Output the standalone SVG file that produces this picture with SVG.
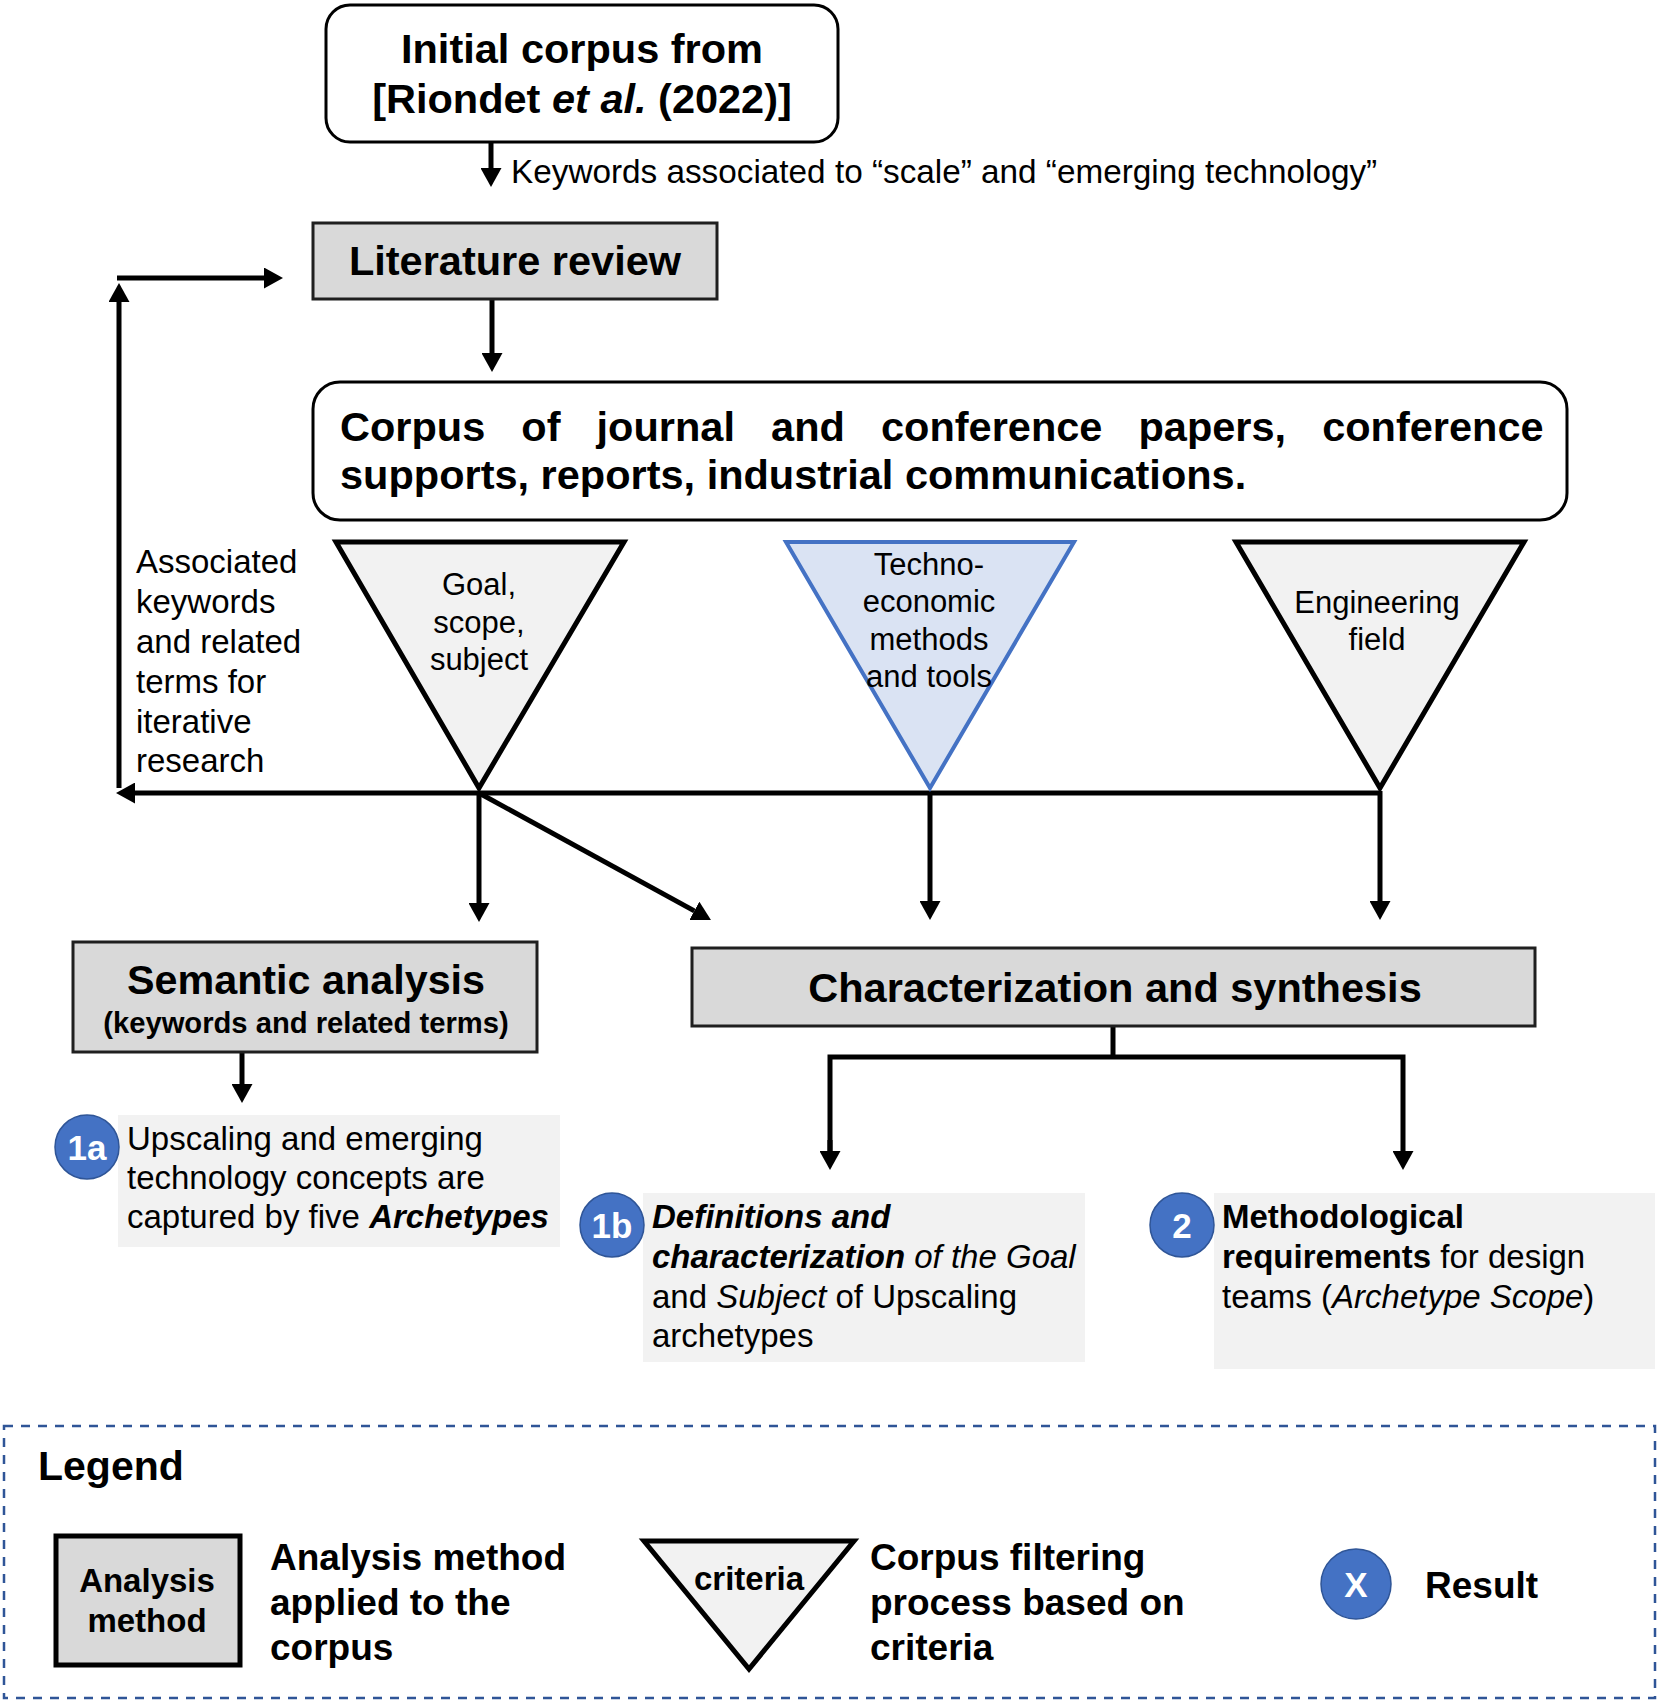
<svg xmlns="http://www.w3.org/2000/svg" width="1670" height="1703" viewBox="0 0 1670 1703">
<style>
text{font-family:"Liberation Sans",Arial,sans-serif;fill:#000}
.b{font-weight:bold}
.i{font-style:italic}
.grey{fill:#d9d9d9;stroke:#1f1f1f;stroke-width:3}
.note{fill:#f2f2f2;stroke:none}
.tri{fill:#f2f2f2;stroke:#000;stroke-width:5;stroke-linejoin:miter}
.badge{fill:#4472c4;stroke:#2f5597;stroke-width:1.5}
.bt{fill:#fff;font-weight:bold;font-size:35px;text-anchor:middle}
.c{stroke:#000;stroke-width:5;fill:none}
.m{text-anchor:middle}
</style>
<defs>
<marker id="ah" markerUnits="userSpaceOnUse" markerWidth="19" markerHeight="21" refX="0" refY="10.5" orient="auto" viewBox="0 0 19 21">
<path d="M0,0 L19,10.5 L0,21 z" fill="#000"/>
</marker>
</defs>
<rect x="0" y="0" width="1670" height="1703" fill="#fff"/>

<g id="connectors">
<line class="c" stroke-width="4" x1="491" y1="142" x2="491" y2="168" marker-end="url(#ah)"/>
<line class="c" x1="492" y1="299" x2="492" y2="353" marker-end="url(#ah)"/>
<line class="c" x1="1380" y1="793" x2="135" y2="793" marker-end="url(#ah)"/>
<line class="c" x1="119" y1="788" x2="119" y2="302" marker-end="url(#ah)"/>
<line class="c" x1="117" y1="278" x2="264" y2="278" marker-end="url(#ah)"/>
<line class="c" x1="479" y1="791" x2="479" y2="903" marker-end="url(#ah)"/>
<line class="c" x1="479" y1="793" x2="694.3" y2="910.9" marker-end="url(#ah)"/>
<line class="c" x1="930" y1="791" x2="930" y2="901" marker-end="url(#ah)"/>
<line class="c" x1="1380" y1="791" x2="1380" y2="901" marker-end="url(#ah)"/>
<line class="c" x1="242" y1="1052" x2="242" y2="1084" marker-end="url(#ah)"/>
<polyline class="c" points="1113,1026 1113,1057"/>
<polyline class="c" points="830,1151 830,1057 1403,1057 1403,1151" marker-end="url(#ah)"/>
<line class="c" x1="830" y1="1140" x2="830" y2="1151" marker-end="url(#ah)"/>
</g>

<g id="initial-corpus">
<rect x="326" y="5" width="512" height="137" rx="24" fill="#fff" stroke="#000" stroke-width="3"/>
<text class="b m" x="582" y="63" font-size="41.5">Initial corpus from</text>
<text class="b m" x="582" y="113" font-size="41.5">[Riondet <tspan class="i">et al.</tspan> (2022)]</text>
</g>
<g id="keywords-label">
<text x="511" y="183" font-size="33.3">Keywords associated to “scale” and “emerging technology”</text>
</g>

<g id="literature-review">
<rect class="grey" x="313" y="223" width="404" height="76"/>
<text class="b m" x="515" y="275" font-size="41.5">Literature review</text>
</g>

<g id="corpus">
<rect x="313" y="382" width="1254" height="138" rx="27" fill="#fff" stroke="#000" stroke-width="3"/>
<text class="b" y="441" font-size="41.5"><tspan x="340">Corpus</tspan><tspan x="521.3">of</tspan><tspan x="596.6">journal</tspan><tspan x="771.1">and</tspan><tspan x="881">conference</tspan><tspan x="1138.5">papers,</tspan><tspan x="1322.2">conference</tspan></text>
<text class="b" x="340" y="489" font-size="41.5">supports, reports, industrial communications.</text>
</g>

<g id="loop-label">
<text font-size="33"><tspan x="136" y="573">Associated</tspan><tspan x="136" y="613">keywords</tspan><tspan x="136" y="653">and related</tspan><tspan x="136" y="693">terms for</tspan><tspan x="136" y="733">iterative</tspan><tspan x="136" y="772">research</tspan></text>
</g>

<g id="filter-goal">
<polygon class="tri" points="336,542 624,542 479,788"/>
<text class="m" font-size="31"><tspan x="479" y="595">Goal,</tspan><tspan x="479" y="633">scope,</tspan><tspan x="479" y="670">subject</tspan></text>
</g>
<g id="filter-techno">
<polygon points="786,542 1074,542 930,788" fill="#dae3f3" stroke="#4472c4" stroke-width="4"/>
<text class="m" font-size="31"><tspan x="929" y="575">Techno-</tspan><tspan x="929" y="612">economic</tspan><tspan x="929" y="650">methods</tspan><tspan x="929" y="687">and tools</tspan></text>
</g>
<g id="filter-engineering">
<polygon class="tri" points="1236,542 1524,542 1380,788"/>
<text class="m" font-size="31"><tspan x="1377" y="613">Engineering</tspan><tspan x="1377" y="650">field</tspan></text>
</g>

<g id="semantic-analysis">
<rect class="grey" x="73" y="942" width="464" height="110"/>
<text class="b m" x="306" y="994" font-size="41.3">Semantic analysis</text>
<text class="b m" x="306" y="1033" font-size="29.2">(keywords and related terms)</text>
</g>

<g id="characterization">
<rect class="grey" x="692" y="948" width="843" height="78"/>
<text class="b m" x="1115" y="1002" font-size="41.5">Characterization and synthesis</text>
</g>

<g id="result-1a">
<rect class="note" x="118" y="1115" width="442" height="132"/>
<circle class="badge" cx="87" cy="1147" r="32"/>
<text class="bt" x="87" y="1160">1a</text>
<text font-size="33"><tspan x="127" y="1150">Upscaling and emerging</tspan><tspan x="127" y="1189">technology concepts are</tspan><tspan x="127" y="1228">captured by five <tspan class="b i">Archetypes</tspan></tspan></text>
</g>

<g id="result-1b">
<rect class="note" x="643" y="1193" width="442" height="169"/>
<circle class="badge" cx="612" cy="1225" r="32"/>
<text class="bt" x="612" y="1238">1b</text>
<text font-size="33"><tspan x="652" y="1228" class="b i">Definitions and</tspan><tspan x="652" y="1268"><tspan class="b i">characterization</tspan><tspan class="i"> of the Goal</tspan></tspan><tspan x="652" y="1308">and <tspan class="i">Subject</tspan> of Upscaling</tspan><tspan x="652" y="1347">archetypes</tspan></text>
</g>

<g id="result-2">
<rect class="note" x="1214" y="1193" width="441" height="176"/>
<circle class="badge" cx="1182" cy="1225" r="32"/>
<text class="bt" x="1182" y="1238">2</text>
<text font-size="33"><tspan x="1222" y="1228" class="b">Methodological</tspan><tspan x="1222" y="1268"><tspan class="b">requirements</tspan> for design</tspan><tspan x="1222" y="1308">teams (<tspan class="i">Archetype Scope</tspan>)</tspan></text>
</g>

<g id="legend">
<rect x="4" y="1426" width="1651" height="272" fill="none" stroke="#2f5597" stroke-width="2.5" stroke-dasharray="9 8"/>
<text class="b" x="38" y="1480" font-size="41">Legend</text>
<rect x="56" y="1536" width="184" height="129" fill="#d9d9d9" stroke="#000" stroke-width="5"/>
<text class="b m" font-size="33"><tspan x="147" y="1592">Analysis</tspan><tspan x="147" y="1632">method</tspan></text>
<text class="b" font-size="37"><tspan x="270" y="1570">Analysis method</tspan><tspan x="270" y="1615">applied to the</tspan><tspan x="270" y="1660">corpus</tspan></text>
<polygon class="tri" points="644,1541 854,1541 749,1669"/>
<text class="b m" x="749" y="1590" font-size="33">criteria</text>
<text class="b" font-size="37"><tspan x="870" y="1570">Corpus filtering</tspan><tspan x="870" y="1615">process based on</tspan><tspan x="870" y="1660">criteria</tspan></text>
<circle class="badge" cx="1356" cy="1584" r="35"/>
<text class="bt" x="1356" y="1597">X</text>
<text class="b" x="1425" y="1598" font-size="37">Result</text>
</g>
</svg>
